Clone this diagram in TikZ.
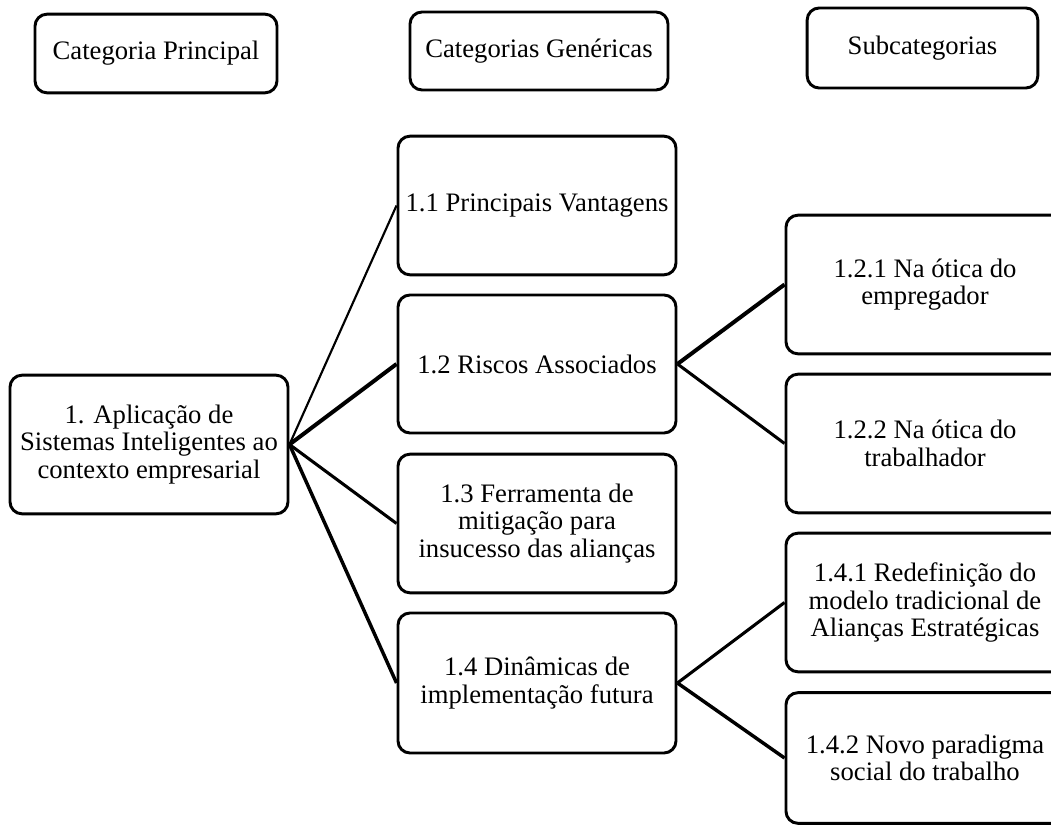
\documentclass[tikz,border=0pt]{standalone}
\usepackage{fontspec}
\setmainfont{Liberation Serif}
\begin{document}
\begin{tikzpicture}[x=0.75pt,y=-0.75pt,
  box/.style={draw=black, line width=2.2pt, rounded corners=9pt, fill=white,
    align=center, inner sep=0pt,
    font=\fontsize{20}{20.8}\selectfont},
  link/.style={draw=black, line width=#1},
  link/.default=2.4pt]
\useasboundingbox (0,0) rectangle (1051,827);
\clip (0,0) rectangle (1051,827);

% column headers
\node[box, minimum width=181.5pt, minimum height=59pt] (h1) at (156,53.5) {Categoria Principal};
\node[box, minimum width=193.5pt, minimum height=58.5pt] (h2) at (539,51) {Categorias Genéricas};
\node[box, minimum width=173pt, minimum height=60pt] (h3) at (922.5,48) {Subcategorias};

% main category
\node[box, minimum width=208.5pt, minimum height=104pt] (root) at (149,444.5)
  {1. Aplicação de\\Sistemas Inteligentes ao\\contexto empresarial};

% generic categories
\node[box, minimum width=208.5pt, minimum height=104pt] (g1) at (537,205.5) {1.1 Principais Vantagens};
\node[box, minimum width=208.5pt, minimum height=103.5pt] (g2) at (537,364) {1.2 Riscos Associados};
\node[box, minimum width=208.5pt, minimum height=104pt] (g3) at (537,523.5)
  {1.3 Ferramenta de\\mitigação para\\insucesso das alianças};
\node[box, minimum width=208.5pt, minimum height=105pt] (g4) at (537,683)
  {1.4 Dinâmicas de\\implementação futura};

% subcategories
\node[box, minimum width=208.5pt, minimum height=104pt] (s1) at (925,284.5)
  {1.2.1 Na ótica do\\empregador};
\node[box, minimum width=208.5pt, minimum height=104pt] (s2) at (925,443.5)
  {1.2.2 Na ótica do\\trabalhador};
\node[box, minimum width=208.5pt, minimum height=104pt] (s3) at (925,602.5)
  {1.4.1 Redefinição do\\modelo tradicional de\\Alianças Estratégicas};
\node[box, minimum width=208.5pt, minimum height=98pt] (s4) at (925,758)
  {1.4.2 Novo paradigma\\social do trabalho};

% connectors
\draw[link=1.6pt] (root.east) -- (g1.west);
\draw[link=3pt] (root.east) -- (g2.west);
\draw[link=2.3pt] (root.east) -- (g3.west);
\draw[link=2.6pt] (root.east) -- (g4.west);
\draw[link=3pt] (g2.east) -- (s1.west);
\draw[link=2.3pt] (g2.east) -- (s2.west);
\draw[link=2.3pt] (g4.east) -- (s3.west);
\draw[link=2.6pt] (g4.east) -- (s4.west);
\end{tikzpicture}
\end{document}
